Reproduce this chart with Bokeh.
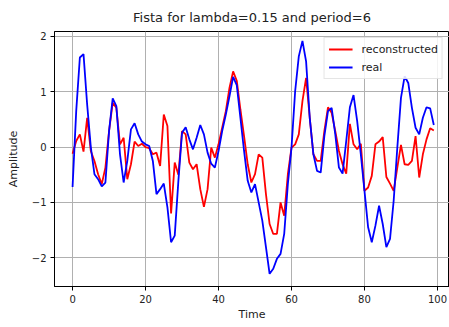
from bokeh.plotting import figure
from bokeh.models import FixedTicker, Range1d, Legend, LegendItem
from bokeh.embed import file_html
from bokeh.resources import INLINE

time = list(range(100))

reconstructed = [
    -0.12, 0.11, 0.23, -0.08, 0.53, -0.07, -0.25, -0.49, -0.67, -0.37,
    0.29, 0.80, 0.71, 0.05, 0.17, -0.58, -0.31, 0.10, 0.02, 0.06,
    0.00, -0.02, -0.13, -0.10, -0.34, 0.59, 0.38, -1.20, -0.28, -0.50,
    0.29, 0.23, -0.28, -0.40, -0.31, -0.76, -1.08, -0.76, -0.01, -0.19,
    0.05, 0.35, 0.65, 1.07, 1.37, 1.20, 0.68, 0.20, -0.31, -0.64,
    -0.49, -0.13, -0.19, -0.85, -1.39, -1.57, -1.57, -1.00, -1.24, -0.49,
    -0.01, 0.05, 0.23, 0.83, 1.25, 0.53, -0.13, -0.25, -0.25, 0.29,
    0.72, 0.62, 0.29, -0.07, -0.31, -0.48, 0.42, 0.05, -0.04, 0.06,
    -0.79, -0.73, -0.52, 0.05, 0.10, 0.18, -0.54, -0.66, -0.79, -0.37,
    0.04, -0.31, -0.32, -0.25, 0.20, -0.55, -0.13, 0.14, 0.34, 0.30,
]

real = [
    -0.72, 0.65, 1.62, 1.68, 0.77, 0.00, -0.49, -0.58, -0.71, -0.64,
    0.29, 0.88, 0.74, -0.13, -0.64, -0.25, 0.32, 0.43, 0.23, 0.10,
    0.05, 0.02, -0.25, -0.85, -0.76, -0.66, -1.09, -1.72, -1.60, -0.61,
    0.26, 0.36, 0.14, -0.04, 0.17, 0.40, 0.23, -0.10, -0.30, -0.37,
    -0.07, 0.29, 0.59, 0.92, 1.27, 1.12, 0.53, -0.07, -0.61, -0.82,
    -0.67, -1.00, -1.33, -1.81, -2.29, -2.20, -2.02, -1.93, -1.57, -0.67,
    -0.01, 1.01, 1.64, 1.92, 1.55, 0.53, -0.13, -0.43, -0.46, 0.20,
    0.65, 0.71, 0.23, -0.37, -0.48, 0.11, 0.72, 0.94, 0.47, -0.13,
    -0.79, -1.45, -1.72, -1.42, -1.06, -1.39, -1.81, -1.66, -0.97, -0.01,
    0.89, 1.28, 1.16, 0.71, 0.35, 0.23, 0.53, 0.72, 0.70, 0.40,
]

x_ticks = [0, 20, 40, 60, 80, 100]
y_ticks = [-2, -1, 0, 1, 2]
y_tick_labels = {-2: "\u22122", -1: "\u22121", 0: "0", 1: "1", 2: "2"}

FONT = "DejaVu Sans"

p = figure(
    width=449, height=327,
    output_backend="svg", toolbar_location=None,
    x_range=Range1d(-4.95, 103.3), y_range=Range1d(-2.52, 2.09),
    title="Fista for lambda=0.15 and period=6",
    min_border_left=54, min_border_right=0, min_border_top=30, min_border_bottom=41,
)
p.title.align = "center"
p.title.text_font = FONT
p.title.text_font_size = "13px"
p.title.text_font_style = "normal"
p.title.text_color = "#222222"
p.title.standoff = 14

r_rec = p.line(time, reconstructed, line_color="red", line_width=1.8)
r_real = p.line(time, real, line_color="blue", line_width=1.8)

p.xaxis.ticker = FixedTicker(ticks=x_ticks)
p.yaxis.ticker = FixedTicker(ticks=y_ticks)
p.yaxis.major_label_overrides = y_tick_labels
p.xaxis.axis_label = "Time"
p.yaxis.axis_label = "Amplitude"

for ax in (p.xaxis[0], p.yaxis[0]):
    ax.axis_label_text_font = FONT
    ax.axis_label_text_font_size = "11px"
    ax.axis_label_text_font_style = "normal"
    ax.axis_label_text_color = "#222222"
    ax.major_label_text_font = FONT
    ax.major_label_text_font_size = "10px"
    ax.major_label_text_color = "#222222"
    ax.minor_tick_line_color = None
    ax.major_tick_in = 0
    ax.major_tick_out = 4
    ax.axis_line_color = "black"
    ax.major_tick_line_color = "black"

p.xaxis.major_label_standoff = 4
p.xaxis.axis_label_standoff = 2
p.yaxis.major_label_standoff = 4
p.yaxis.axis_label_standoff = 9

p.grid.grid_line_color = "#b0b0b0"
p.grid.grid_line_width = 1
p.outline_line_color = "black"
p.outline_line_alpha = 1
p.background_fill_color = "white"
p.border_fill_color = "white"

legend = Legend(
    items=[LegendItem(label="reconstructed", renderers=[r_rec]),
           LegendItem(label="real", renderers=[r_real])],
    location="top_right",
    label_text_font=FONT, label_text_font_size="11px", label_text_color="#222222",
    glyph_width=24, glyph_height=14, label_height=14, label_standoff=9,
    spacing=4, padding=4, margin=6,
    border_line_color="#cccccc", border_line_width=1,
    background_fill_color="white", background_fill_alpha=0.85,
)
p.add_layout(legend)

open("out.html", "w").write(file_html(p, INLINE))
